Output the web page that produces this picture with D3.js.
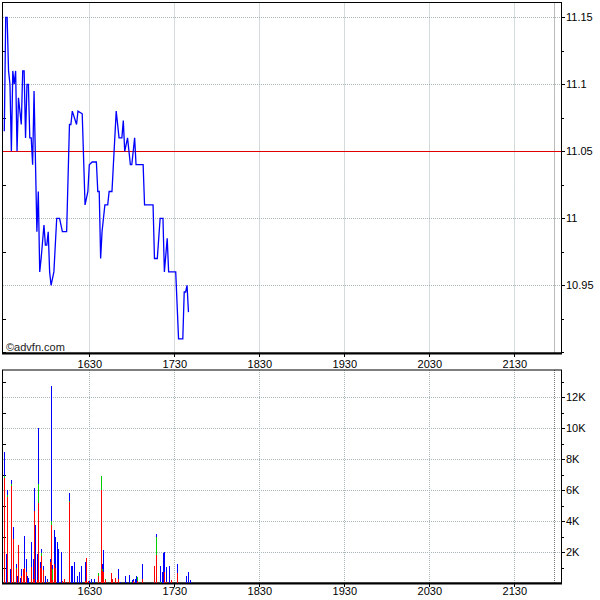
<!DOCTYPE html>
<html><head><meta charset="utf-8">
<script src="https://cdn.jsdelivr.net/npm/d3@7/dist/d3.min.js"></script>
<style>body{margin:0;background:#fff}svg{display:block}text{font-family:"Liberation Sans",Arial,sans-serif}</style>
</head><body><svg id="c" width="600" height="600"></svg>
<script>
// ---- data ----
const sessionStart = "15:30", sessionEnd = "22:00";
const prevClose = 11.05;
const priceTimes = ["15:30","15:31","15:32","15:33","15:34","15:35","15:36","15:37","15:38","15:39","15:40","15:42","15:43","15:44","15:45","15:46","15:47","15:48","15:49","15:50","15:51","15:53","15:54","15:55","15:56","15:58","15:59","16:00","16:01","16:02","16:03","16:05","16:07","16:09","16:11","16:14","16:16","16:17","16:18","16:21","16:22","16:25","16:27","16:29","16:30","16:32","16:35","16:36","16:37","16:38","16:39","16:41","16:43","16:44","16:46","16:47","16:49","16:51","16:53","16:54","16:55","16:57","16:59","17:00","17:02","17:03","17:08","17:09","17:15","17:16","17:18","17:20","17:22","17:23","17:25","17:26","17:31","17:33","17:36","17:37","17:38","17:39","17:40"];
const priceValues = [11.065,11.15,11.15,11.11,11.10,11.05,11.11,11.10,11.11,11.05,11.09,11.07,11.11,11.11,11.06,11.10,11.10,11.06,11.06,11.04,11.095,10.99,11.02,10.96,10.97,10.995,10.98,10.98,10.99,10.96,10.95,10.96,11.00,11.00,10.99,10.99,11.07,11.07,11.08,11.07,11.08,11.078,11.01,11.02,11.04,11.042,11.042,11.02,11.02,10.97,10.99,11.01,11.01,11.02,11.02,11.04,11.08,11.06,11.06,11.073,11.05,11.06,11.04,11.04,11.06,11.04,11.04,11.01,11.01,10.97,10.97,11.00,11.00,10.96,10.985,10.96,10.96,10.91,10.91,10.945,10.945,10.95,10.93];
const volTimes = ["15:30","15:31","15:32","15:34","15:35","15:36","15:38","15:39","15:40","15:41","15:42","15:43","15:44","15:45","15:46","15:47","15:49","15:50","15:51","15:52","15:53","15:54","15:55","15:56","15:57","15:59","16:00","16:02","16:03","16:04","16:05","16:06","16:07","16:08","16:10","16:11","16:12","16:14","16:16","16:17","16:18","16:19","16:21","16:23","16:24","16:27","16:28","16:29","16:30","16:31","16:33","16:36","16:38","16:39","16:40","16:41","16:45","16:46","16:48","16:49","16:50","16:52","16:55","16:56","16:58","16:59","17:00","17:01","17:02","17:03","17:04","17:07","17:10","17:16","17:17","17:18","17:20","17:21","17:22","17:23","17:24","17:26","17:27","17:28","17:32","17:34","17:38","17:40","17:41"];
const volRed   = [6800,0,5600,0,6300,2850,900,0,2470,0,500,900,970,730,0,0,1030,300,4670,0,200,5160,1000,1780,860,0,100,1390,3760,200,1220,970,0,0,0,150,300,100,5230,0,0,0,0,0,0,150,1650,150,0,0,0,500,6020,800,700,200,680,250,320,100,300,0,0,0,0,50,0,150,0,0,150,300,50,1120,1830,50,0,0,0,700,100,0,50,200,680,50,0,0,0];
const volGreen = [100,0,100,0,100,0,100,0,0,0,0,0,0,0,0,0,0,0,0,0,0,1240,0,150,0,0,0,0,260,700,0,0,0,0,0,0,0,0,50,0,0,0,0,0,0,0,0,0,0,0,0,150,900,150,0,100,0,0,0,0,0,0,0,0,0,50,0,0,0,0,250,0,0,0,1170,0,100,0,0,0,0,0,0,0,0,0,0,0,0];
const volBlue  = [1600,1900,300,900,250,800,250,470,0,320,400,0,2080,840,470,340,1620,1270,1480,3760,1700,3600,390,280,270,470,200,180,8740,300,2220,2030,2670,2210,2020,0,0,0,530,1130,1130,1350,500,700,1100,1200,0,0,150,280,280,0,0,300,1450,0,0,0,0,0,620,100,500,100,550,0,200,150,300,500,0,950,0,0,180,0,1000,750,1970,1340,970,1100,0,0,570,0,500,700,200];
const hourTicks  = ["16:30","17:30","18:30","19:30","20:30","21:30"];
const hourLabels = ["1630","1730","1830","1930","2030","2130"];
const priceTicks = [10.95, 11, 11.05, 11.1, 11.15];
const priceTickLabels = ["10.95","11","11.05","11.1","11.15"];
const priceMinor = [10.9, 10.925, 10.975, 11.025, 11.075, 11.125];
const volTicks = [2000, 4000, 6000, 8000, 10000, 12000];
const volTickLabels = ["2K","4K","6K","8K","10K","12K"];
const volMinor = [1000, 3000, 5000, 7000, 9000, 11000, 13000];

// ---- drawing ----
const svg = d3.select("#c");
const parse = d3.timeParse("%H:%M");
const L = 3, R = 561;
const P = {top: 2.5, bottom: 353};
const V = {top: 370, bottom: 583};

const x = d3.scaleTime().domain([parse("15:30"), parse("21:30")]).range([4.3, 514.3]);
const yP = d3.scaleLinear().domain([10.95, 11.15]).range([285.3, 17.3]);
const yV = d3.scaleLinear().domain([0, 12000]).range([583.3, 397.3]);

const gridCol = "#a9b7b9";

function panel(box, yScale, ticks, minor, labels) {
  const g = svg.append("g");
  // horizontal grid
  g.selectAll(".hg").data(ticks).join("line")
    .attr("x1", L).attr("x2", R)
    .attr("y1", d => Math.round(yScale(d)) + 0.5).attr("y2", d => Math.round(yScale(d)) + 0.5)
    .attr("stroke", gridCol).attr("stroke-dasharray", "1,1");
  // vertical grid
  g.selectAll(".vg").data(hourTicks).join("line")
    .attr("x1", d => Math.round(x(parse(d))) + 0.5).attr("x2", d => Math.round(x(parse(d))) + 0.5)
    .attr("y1", box.top).attr("y2", box.bottom)
    .attr("stroke", gridCol).attr("stroke-dasharray", "1,1");
  // session end line
  const xe = Math.round(x(parse(sessionEnd))) - 2.5;
  g.append("line").attr("x1", xe).attr("x2", xe).attr("y1", box.top).attr("y2", box.bottom)
    .attr("stroke", "#777").attr("stroke-dasharray", "1,1");
  // frame
  g.append("rect").attr("x", L - 0.5).attr("y", box.top).attr("width", R - L + 1).attr("height", box.bottom - box.top)
    .attr("fill", "none").attr("stroke", "#000");
  g.append("line").attr("x1", L - 1).attr("x2", R + 1).attr("y1", box.bottom + 0.5).attr("y2", box.bottom + 0.5)
    .attr("stroke", "#000").attr("stroke-width", 2);
  // left inner minor ticks
  g.selectAll(".lm").data(minor).join("line")
    .attr("x1", L).attr("x2", L + 3)
    .attr("y1", d => Math.round(yScale(d)) + 0.5).attr("y2", d => Math.round(yScale(d)) + 0.5)
    .attr("stroke", "#000");
  // right axis
  g.selectAll(".rM").data(ticks).join("line")
    .attr("x1", R).attr("x2", R + 4)
    .attr("y1", d => Math.round(yScale(d)) + 0.5).attr("y2", d => Math.round(yScale(d)) + 0.5)
    .attr("stroke", "#000");
  g.selectAll(".rm").data(minor).join("line")
    .attr("x1", R).attr("x2", R + 3)
    .attr("y1", d => Math.round(yScale(d)) + 0.5).attr("y2", d => Math.round(yScale(d)) + 0.5)
    .attr("stroke", "#000");
  g.selectAll(".rl").data(ticks).join("text")
    .attr("x", R + 5).attr("y", d => yScale(d) + 4)
    .attr("font-size", 11).attr("fill", "#000")
    .text((d, i) => labels[i]);
  // bottom hour ticks
  g.selectAll(".bt").data(hourTicks).join("line")
    .attr("x1", d => Math.round(x(parse(d))) + 0.5).attr("x2", d => Math.round(x(parse(d))) + 0.5)
    .attr("y1", box.bottom).attr("y2", box.bottom + 4)
    .attr("stroke", "#000");
  return g;
}

panel(P, yP, priceTicks, priceMinor, priceTickLabels);
panel(V, yV, volTicks, volMinor, volTickLabels);

// x labels (between panels and at bottom)
[368, 595].forEach(yy => {
  svg.selectAll(null).data(hourTicks).join("text")
    .attr("x", d => x(parse(d)) + 0.5).attr("y", yy)
    .attr("text-anchor", "middle").attr("font-size", 11).attr("fill", "#000")
    .text((d, i) => hourLabels[i]);
});

// previous close line
svg.append("line").attr("x1", L).attr("x2", R)
  .attr("y1", Math.round(yP(prevClose)) + 0.5).attr("y2", Math.round(yP(prevClose)) + 0.5)
  .attr("stroke", "#e00000");

// price line
const pts = priceTimes.map((t, i) => [parse(t), priceValues[i]]);
svg.append("path").datum(pts)
  .attr("fill", "none").attr("stroke", "#0000ff").attr("stroke-width", 1.3)
  .attr("d", d3.line().x(d => x(d[0])).y(d => yP(d[1])));

// copyright
svg.append("text").attr("x", 6).attr("y", 351).attr("font-size", 11).attr("fill", "#222").text("\u00a9advfn.com");

// volume stacked bars
const vol = volTimes.map((t, i) => ({t: parse(t), r: volRed[i], g: volGreen[i], b: volBlue[i]}));
const segs = [];
vol.forEach(d => {
  segs.push({t: d.t, y0: 0, y1: d.r, c: "#ff0000"});
  segs.push({t: d.t, y0: d.r, y1: d.r + d.g, c: "#00cc00"});
  segs.push({t: d.t, y0: d.r + d.g, y1: d.r + d.g + d.b, c: "#0000ff"});
});
svg.append("g").attr("shape-rendering", "crispEdges")
  .selectAll("rect").data(segs.filter(s => s.y1 > s.y0)).join("rect")
  .attr("x", d => Math.round(x(d.t)) - 0.3).attr("width", 1.2)
  .attr("y", d => yV(d.y1)).attr("height", d => yV(d.y0) - yV(d.y1))
  .attr("fill", d => d.c);
</script></body></html>
